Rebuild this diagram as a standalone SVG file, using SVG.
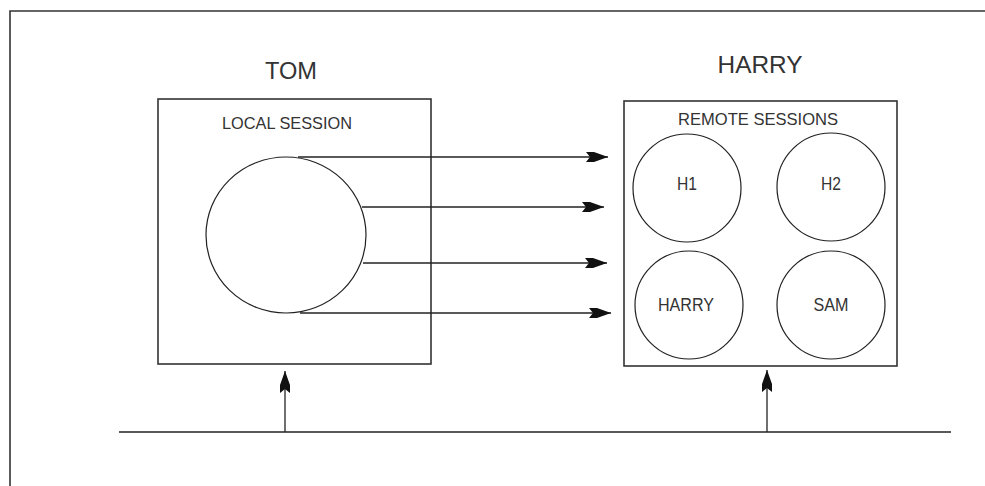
<svg xmlns="http://www.w3.org/2000/svg" width="985" height="486" viewBox="0 0 985 486">
  <style>
    .ln { stroke: #222; stroke-width: 1.3; fill: none; }
    .box { stroke: #333; stroke-width: 1.6; fill: none; }
    .blob { stroke: #222; stroke-width: 1.2; fill: none; }
    .t { font-family: "Liberation Sans", Arial, sans-serif; fill: #333; text-anchor: middle; }
    .big { font-size: 24px; }
    .mid { font-size: 17px; }
    .sm { font-size: 18px; }
  </style>
  <defs>
    <marker id="head" markerUnits="userSpaceOnUse" markerWidth="26" markerHeight="14" viewBox="-24 -7 26 14" refX="0" refY="0" orient="auto">
      <path d="M0,0 L-14,-5 L-22,-5 L-18,0 L-22,5 L-14,5 Z" fill="#111"/>
    </marker>
  </defs>
  <rect width="985" height="486" fill="#fff"/>

  <!-- outer frame -->
  <path class="box" d="M10,486 V11 H985"/>

  <!-- local host -->
  <g id="tom">
    <text class="t big" x="291" y="79" textLength="52" lengthAdjust="spacingAndGlyphs">TOM</text>
    <rect class="box" x="158" y="99" width="273" height="265"/>
    <text class="t mid" x="287" y="129" textLength="130" lengthAdjust="spacingAndGlyphs">LOCAL SESSION</text>
    <ellipse class="blob" cx="286" cy="235" rx="80" ry="78"/>
  </g>

  <!-- remote host -->
  <g id="harry">
    <text class="t big" x="760" y="73" textLength="85" lengthAdjust="spacingAndGlyphs">HARRY</text>
    <rect class="box" x="624" y="101" width="273" height="265"/>
    <text class="t mid" x="758" y="125" textLength="160" lengthAdjust="spacingAndGlyphs">REMOTE SESSIONS</text>
  </g>
  <g id="h1">
    <circle class="blob" cx="687" cy="188" r="54"/>
    <text class="t sm" x="687" y="190" textLength="20" lengthAdjust="spacingAndGlyphs">H1</text>
  </g>
  <g id="h2">
    <circle class="blob" cx="831" cy="187" r="54"/>
    <text class="t sm" x="831" y="190" textLength="20" lengthAdjust="spacingAndGlyphs">H2</text>
  </g>
  <g id="harry-session">
    <circle class="blob" cx="689" cy="305" r="54"/>
    <text class="t sm" x="686" y="311" textLength="56" lengthAdjust="spacingAndGlyphs">HARRY</text>
  </g>
  <g id="sam">
    <circle class="blob" cx="831" cy="305" r="54"/>
    <text class="t sm" x="831" y="311" textLength="35" lengthAdjust="spacingAndGlyphs">SAM</text>
  </g>

  <!-- network line -->
  <g id="network">
    <line class="ln" x1="119" y1="432" x2="951" y2="432"/>
  </g>

  <!-- connectors -->
  <g id="connectors">
    <line class="ln" x1="298" y1="157" x2="608" y2="157" marker-end="url(#head)"/>
    <line class="ln" x1="362" y1="207" x2="604" y2="207" marker-end="url(#head)"/>
    <line class="ln" x1="363" y1="263" x2="607" y2="263" marker-end="url(#head)"/>
    <line class="ln" x1="300" y1="313" x2="611" y2="313" marker-end="url(#head)"/>
    <line class="ln" x1="285" y1="432" x2="285" y2="371" marker-end="url(#head)"/>
    <line class="ln" x1="767" y1="432" x2="767" y2="370" marker-end="url(#head)"/>
  </g>
</svg>
